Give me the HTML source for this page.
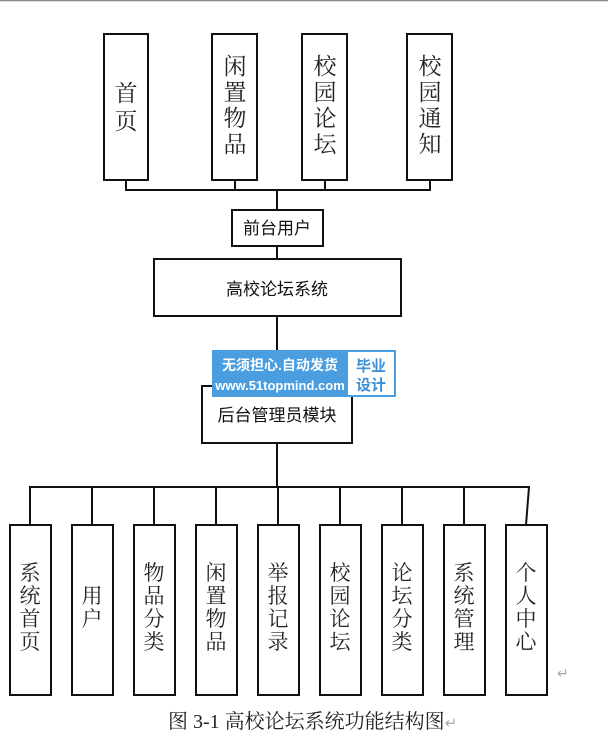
<!DOCTYPE html>
<html><head><meta charset="utf-8"><style>
body{margin:0;background:#fff;width:608px;height:747px;overflow:hidden}
svg{display:block}
.s{font-family:"Liberation Serif","Noto Serif CJK SC",serif;fill:#222}
.h{font-family:"Liberation Sans","Noto Sans CJK SC",sans-serif;fill:#111}
</style></head><body>
<svg width="608" height="747" viewBox="0 0 608 747" xmlns="http://www.w3.org/2000/svg">
<line x1="0" y1="0.5" x2="608" y2="0.5" stroke="#888" stroke-width="1.5"/>
<g fill="#fff" stroke="#111" stroke-width="2">
<rect x="104" y="34" width="44" height="146"/>
<rect x="212" y="34" width="45" height="146"/>
<rect x="302" y="34" width="45" height="146"/>
<rect x="407" y="34" width="45" height="146"/>
<rect x="232" y="210" width="91" height="36"/>
<rect x="154" y="259" width="247" height="57"/>
<rect x="202" y="386" width="150" height="57"/>
</g>
<g stroke="#111" stroke-width="2" fill="none">
<path d="M126 180V190M235 180V190M325 180V190M430 180V190M125 190H431M277 190V210M277 246V259M277 316V386M277 443V487M29 487H530"/>
<path d="M30 487V525M92 487V525M154 487V525M216 487V525M278 487V525M340 487V525M402 487V525M464 487V525M529 487L526 525"/>
</g>
<g fill="#fff" stroke="#111" stroke-width="2">
<rect x="10" y="525" width="41" height="170"/>
<rect x="72" y="525" width="41" height="170"/>
<rect x="134" y="525" width="41" height="170"/>
<rect x="196" y="525" width="41" height="170"/>
<rect x="258" y="525" width="41" height="170"/>
<rect x="320" y="525" width="41" height="170"/>
<rect x="382" y="525" width="41" height="170"/>
<rect x="444" y="525" width="41" height="170"/>
<rect x="506" y="525" width="41" height="170"/>
</g>
<g class="s" font-size="23" text-anchor="middle">
<text x="126" y="101">首</text><text x="126" y="129">页</text>
<text x="235" y="74">闲</text><text x="235" y="100">置</text><text x="235" y="126">物</text><text x="235" y="152">品</text>
<text x="325" y="74">校</text><text x="325" y="100">园</text><text x="325" y="126">论</text><text x="325" y="152">坛</text>
<text x="430" y="74">校</text><text x="430" y="100">园</text><text x="430" y="126">通</text><text x="430" y="152">知</text>
</g>
<g class="s" font-size="21" text-anchor="middle">
<text x="30" y="580">系</text><text x="30" y="603">统</text><text x="30" y="626">首</text><text x="30" y="649">页</text>
<text x="92" y="603">用</text><text x="92" y="626">户</text>
<text x="154" y="580">物</text><text x="154" y="603">品</text><text x="154" y="626">分</text><text x="154" y="649">类</text>
<text x="216" y="580">闲</text><text x="216" y="603">置</text><text x="216" y="626">物</text><text x="216" y="649">品</text>
<text x="278" y="580">举</text><text x="278" y="603">报</text><text x="278" y="626">记</text><text x="278" y="649">录</text>
<text x="340" y="580">校</text><text x="340" y="603">园</text><text x="340" y="626">论</text><text x="340" y="649">坛</text>
<text x="402" y="580">论</text><text x="402" y="603">坛</text><text x="402" y="626">分</text><text x="402" y="649">类</text>
<text x="464" y="580">系</text><text x="464" y="603">统</text><text x="464" y="626">管</text><text x="464" y="649">理</text>
<text x="526" y="580">个</text><text x="526" y="603">人</text><text x="526" y="626">中</text><text x="526" y="649">心</text>
</g>
<g class="h" font-size="17" text-anchor="middle">
<text x="277" y="234">前台用户</text>
<text x="277" y="295">高校论坛系统</text>
<text x="277" y="421">后台管理员模块</text>
</g>
<rect x="212" y="350" width="184" height="47" fill="#4a9ee0"/>
<rect x="348" y="352" width="46" height="43" fill="#fff"/>
<g font-family="Liberation Sans,'Noto Sans CJK SC',sans-serif" font-weight="bold">
<text x="280" y="370" font-size="14" fill="#fff" text-anchor="middle">无须担心.自动发货</text>
<text x="280" y="390" font-size="13" fill="#fff" text-anchor="middle">www.51topmind.com</text>
<text x="371" y="371" font-size="15" fill="#3d8fd6" text-anchor="middle">毕业</text>
<text x="371" y="390" font-size="15" fill="#3d8fd6" text-anchor="middle">设计</text>
</g>
<text x="557" y="678" font-size="14" fill="#aaa" font-family="Liberation Sans,sans-serif">↵</text>
<text x="168" y="728" class="s" font-size="20" fill="#222">图 3-1  高校论坛系统功能结构图<tspan fill="#aaa" font-size="15">↵</tspan></text>
</svg>
</body></html>
